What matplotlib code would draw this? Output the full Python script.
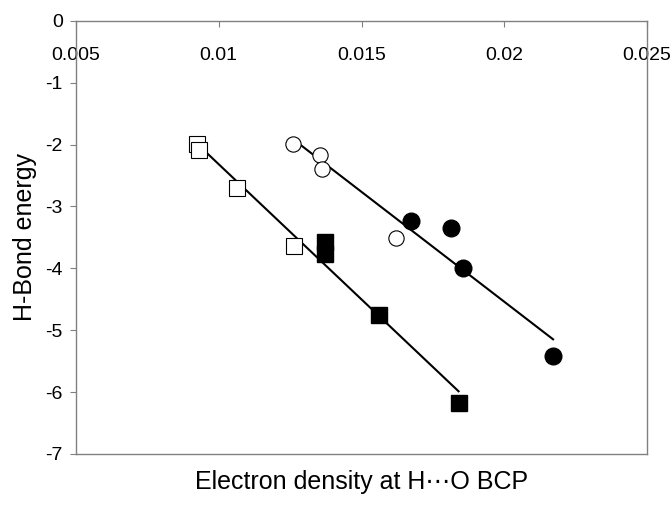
import numpy as np
import matplotlib
matplotlib.use("Agg")
import matplotlib.pyplot as plt

plt.rcParams['font.family'] = ['Liberation Sans', 'DejaVu Sans']
plt.rcParams['axes.unicode_minus'] = False

# electron density at the H...O bond critical point vs. H-bond energy
sq_open_x = [0.00923, 0.00932, 0.01064, 0.01262]
sq_open_y = [-1.99, -2.09, -2.71, -3.64]
sq_fill_x = [0.01372, 0.01372, 0.01561, 0.0184]
sq_fill_y = [-3.58, -3.77, -4.75, -6.18]

ci_open_x = [0.01261, 0.01356, 0.01363, 0.01621]
ci_open_y = [-1.99, -2.17, -2.40, -3.51]
ci_fill_x = [0.01672, 0.01812, 0.01854, 0.02171]
ci_fill_y = [-3.23, -3.35, -3.99, -5.42]

xticks = [0.005, 0.01, 0.015, 0.02, 0.025]
xticklabels = ['0.005', '0.01', '0.015', '0.02', '0.025']

fig = plt.figure(figsize=(6.72, 5.05), dpi=100)
ax = fig.add_axes([76/672, 1 - 454/505, 571/672, 433.3/505])


def trend(xs, ys):
    xs = np.asarray(xs)
    ys = np.asarray(ys)
    k, b = np.polyfit(xs, ys, 1)
    xx = np.array([xs.min(), xs.max()])
    ax.plot(xx, k * xx + b, color='black', lw=1.5, zorder=2)


trend(sq_open_x + sq_fill_x, sq_open_y + sq_fill_y)
trend(ci_open_x + ci_fill_x, ci_open_y + ci_fill_y)

ax.plot(sq_open_x, sq_open_y, 's', ms=11.5, mfc='white', mec='black', mew=0.8, zorder=3)
ax.plot(sq_fill_x, sq_fill_y, 's', ms=11.5, mfc='black', mec='black', zorder=3)
ax.plot(ci_open_x, ci_open_y, 'o', ms=11, mfc='white', mec='black', mew=0.8, zorder=3)
ax.plot(ci_fill_x, ci_fill_y, 'o', ms=12, mfc='black', mec='black', zorder=3)

ax.set_xlim(0.005, 0.025)
ax.set_ylim(-7, 0)
ax.set_xticks(xticks)
ax.set_xticklabels(xticklabels)
ax.set_yticks(range(-7, 1))

for s in ax.spines.values():
    s.set_color('#808080')
    s.set_linewidth(1)

ax.tick_params(axis='x', top=True, bottom=False, labeltop=True, labelbottom=False,
               direction='in', length=4, color='#808080', pad=-31, labelsize=14)
ax.tick_params(axis='y', direction='out', length=4.5, color='#808080', pad=5, labelsize=14)

ax.set_xlabel('Electron density at H\u22efO BCP', fontsize=18)
ax.xaxis.set_label_position('bottom')
ax.xaxis.set_label_coords(0.5, -0.065)
ax.xaxis.label.set_va('center')
ax.set_ylabel('H-Bond energy', fontsize=18)
ax.yaxis.set_label_coords(-0.09, 0.5)
ax.yaxis.label.set_va('center')

fig.savefig('out.png', dpi=100)
